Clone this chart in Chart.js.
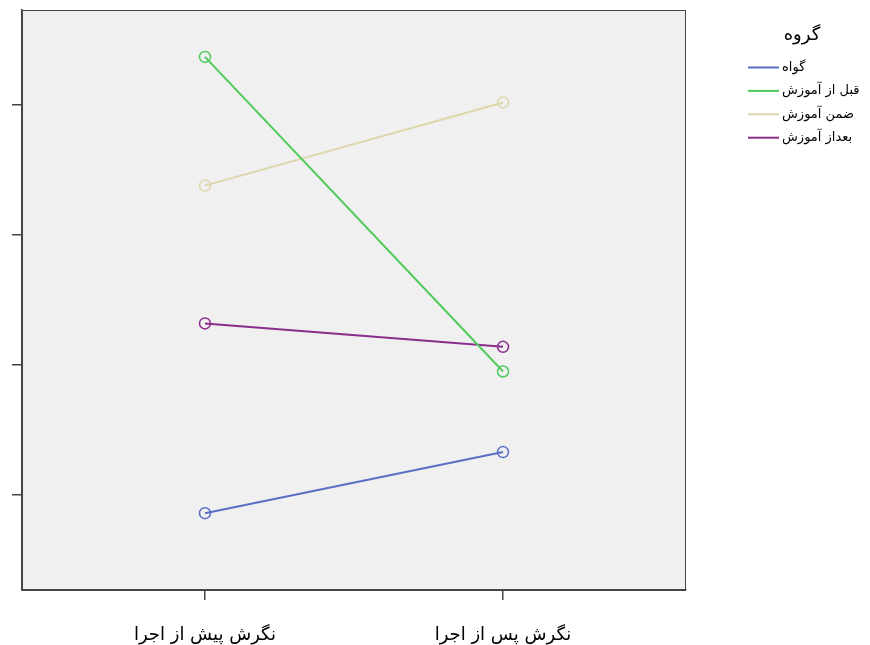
<!DOCTYPE html>
<html><head><meta charset="utf-8">
<script src="https://cdn.jsdelivr.net/npm/chart.js@4/dist/chart.umd.min.js"></script>
<style>html,body{margin:0;padding:0;background:#fff}#wrap{width:870px;height:645px}</style>
</head><body><div id="wrap"><canvas id="c"></canvas></div>
<script>
const categories = ['نگرش پیش از اجرا', 'نگرش پس از اجرا'];
const groupTitle = 'گروه';
const seriesNames = ['گواه', 'قبل از آموزش', 'ضمن آموزش', 'بعداز آموزش'];
const controlVals = [0.86, 1.33];
const beforeVals = [4.37, 1.95];
const duringVals = [3.38, 4.02];
const afterVals = [2.32, 2.14];
const yTicks = [1, 2, 3, 4];
const colors = ['#5b6fc6', '#4fcb5c', '#dcd7aa', '#8a2d8c'];

const allVals = [controlVals, beforeVals, duringVals, afterVals];
const datasets = allVals.map((vals, i) => ({
  label: seriesNames[i],
  data: vals.map((v, j) => ({x: j + 1, y: v})),
  borderColor: colors[i],
  backgroundColor: 'rgba(0,0,0,0)',
  borderWidth: 2,
  pointRadius: 5.5,
  pointHoverRadius: 5.5,
  pointBorderWidth: 1.5,
  pointBorderColor: colors[i],
  pointBackgroundColor: 'rgba(0,0,0,0)',
  tension: 0
}));

const areaPlugin = {
  id: 'area',
  beforeDraw(chart) {
    const {ctx, chartArea: a} = chart;
    ctx.save();
    ctx.fillStyle = '#f0f0f0';
    ctx.fillRect(a.left, a.top, a.right - a.left, a.bottom - a.top);
    ctx.restore();
  },
  afterDraw(chart) {
    const {ctx, chartArea: a} = chart;
    ctx.save();
    ctx.strokeStyle = '#444';
    ctx.lineWidth = 1;
    ctx.strokeRect(a.left + 0.5, a.top + 0.5, a.right - a.left - 1, a.bottom - a.top);
    // legend
    const lx = a.right + 62;
    ctx.fillStyle = '#000';
    ctx.font = '18px "DejaVu Sans"';
    ctx.textAlign = 'center';
    ctx.textBaseline = 'middle';
    ctx.fillText(groupTitle, 802, 35);
    ctx.font = '13px "DejaVu Sans"';
    ctx.textAlign = 'left';
    chart.data.datasets.forEach((ds, i) => {
      const y = 67.5 + i * 23.4;
      ctx.strokeStyle = ds.borderColor;
      ctx.lineWidth = 2;
      ctx.beginPath();
      ctx.moveTo(lx, y);
      ctx.lineTo(lx + 31, y);
      ctx.stroke();
      ctx.fillStyle = '#000';
      ctx.fillText(ds.label, lx + 34, y);
    });
    ctx.restore();
  }
};

new Chart(document.getElementById('c'), {
  type: 'line',
  data: {datasets},
  plugins: [areaPlugin],
  options: {
    responsive: true,
    maintainAspectRatio: false,
    animation: false,
    layout: {padding: {left: 12, top: 10, right: 184, bottom: 0}},
    plugins: {legend: {display: false}, tooltip: {enabled: false}},
    scales: {
      x: {
        type: 'linear',
        min: 0.386, max: 2.614,
        afterBuildTicks(s) { s.ticks = categories.map((c, i) => ({value: i + 1})); },
        afterFit(s) { s.height = 55; },
        ticks: {
          callback: (v) => categories[Math.round(v) - 1] || '',
          color: '#000',
          font: {family: '"DejaVu Sans"', size: 18},
          padding: 25,
          maxRotation: 0
        },
        grid: {drawOnChartArea: false, tickLength: 10, color: '#444', lineWidth: 1.5},
        border: {display: true, color: '#444', width: 1.5}
      },
      y: {
        type: 'linear',
        min: 0.269, max: 4.731,
        afterBuildTicks(s) { s.ticks = yTicks.map(v => ({value: v})); },
        ticks: {display: false},
        grid: {drawOnChartArea: false, tickLength: 10, color: '#444', lineWidth: 1.5},
        border: {display: true, color: '#444', width: 1.5}
      }
    }
  }
});
</script></body></html>
